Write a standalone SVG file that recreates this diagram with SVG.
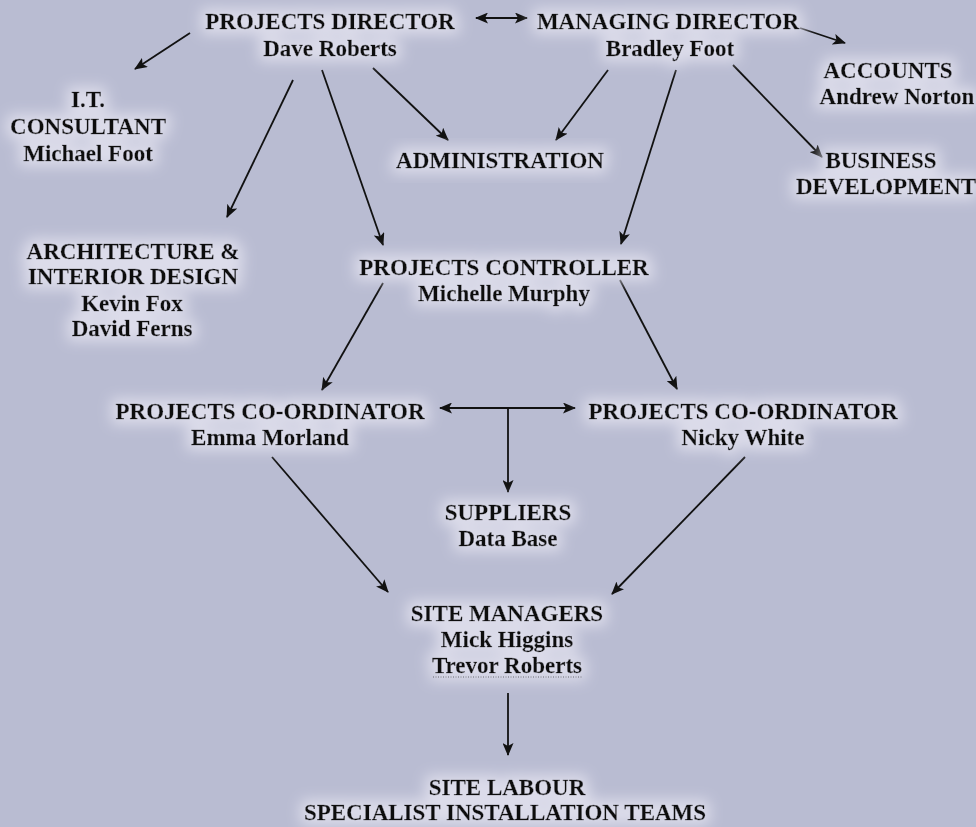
<svg xmlns="http://www.w3.org/2000/svg" width="976" height="827" viewBox="0 0 976 827">
<defs>
<style>
text{font-family:"Liberation Serif","Times New Roman",serif;font-weight:bold;font-size:23px;fill:#0c0c0c;stroke:#0c0c0c;stroke-width:0.3;text-anchor:middle}
.c line{stroke:#111;stroke-width:1.8;fill:none}
</style>
<marker id="ah" viewBox="0 0 13 11" refX="12" refY="5.5" markerWidth="13" markerHeight="11" markerUnits="userSpaceOnUse" orient="auto-start-reverse">
<path d="M0,0 L13,5.5 L0,11 L3,5.5 Z" fill="#111"/>
</marker>
<filter id="glow" x="-20%" y="-40%" width="140%" height="180%">
<feMorphology in="SourceAlpha" operator="dilate" radius="5" result="d"/>
<feGaussianBlur in="d" stdDeviation="7" result="b"/>
<feFlood flood-color="#dcdcea" flood-opacity="1"/>
<feComposite in2="b" operator="in" result="g"/>
<feMerge><feMergeNode in="g"/><feMergeNode in="SourceGraphic"/></feMerge>
</filter>
</defs>
<rect width="976" height="827" fill="#b9bcd2"/>
<g class="c" id="connectors">
<line x1="190" y1="33" x2="135" y2="69" marker-end="url(#ah)"/>
<line x1="476" y1="18" x2="527" y2="18" marker-start="url(#ah)" marker-end="url(#ah)"/>
<line x1="800" y1="28" x2="845" y2="43" marker-end="url(#ah)"/>
<line x1="293" y1="80" x2="227" y2="217" marker-end="url(#ah)"/>
<line x1="322" y1="70" x2="383" y2="245" marker-end="url(#ah)"/>
<line x1="373" y1="68" x2="448" y2="140" marker-end="url(#ah)"/>
<line x1="608" y1="70" x2="556" y2="140" marker-end="url(#ah)"/>
<line x1="676" y1="70" x2="621" y2="244" marker-end="url(#ah)"/>
<line x1="733" y1="65" x2="822" y2="157" marker-end="url(#ah)"/>
<line x1="383" y1="283" x2="322" y2="390" marker-end="url(#ah)"/>
<line x1="620" y1="280" x2="677" y2="389" marker-end="url(#ah)"/>
<line x1="440" y1="408" x2="575" y2="408" marker-start="url(#ah)" marker-end="url(#ah)"/>
<line x1="508" y1="408" x2="508" y2="492" marker-end="url(#ah)"/>
<line x1="272" y1="457" x2="388" y2="592" marker-end="url(#ah)"/>
<line x1="745" y1="457" x2="612" y2="594" marker-end="url(#ah)"/>
<line x1="508" y1="693" x2="508" y2="755" marker-end="url(#ah)"/>
</g>
<g id="projects-director" filter="url(#glow)"><text x="330" y="29">PROJECTS DIRECTOR</text><text x="330" y="56">Dave Roberts</text></g>
<g id="managing-director" filter="url(#glow)"><text x="668" y="29">MANAGING DIRECTOR</text><text x="670" y="56">Bradley Foot</text></g>
<g id="accounts" filter="url(#glow)"><text x="888" y="78">ACCOUNTS</text><text x="897" y="104">Andrew Norton</text></g>
<g id="it-consultant" filter="url(#glow)"><text x="88" y="107">I.T.</text><text x="88" y="134">CONSULTANT</text><text x="88" y="161">Michael Foot</text></g>
<g id="administration" filter="url(#glow)"><text x="500" y="168">ADMINISTRATION</text></g>
<g id="business-development" filter="url(#glow)"><text x="881" y="168">BUSINESS</text><text x="886" y="194">DEVELOPMENT</text></g>
<g id="architecture" filter="url(#glow)"><text x="133" y="259">ARCHITECTURE &amp;</text><text x="133" y="284">INTERIOR DESIGN</text><text x="132" y="311">Kevin Fox</text><text x="132" y="336">David Ferns</text></g>
<g id="projects-controller" filter="url(#glow)"><text x="504" y="275">PROJECTS CONTROLLER</text><text x="504" y="301">Michelle Murphy</text></g>
<g id="coordinator-left" filter="url(#glow)"><text x="270" y="419">PROJECTS CO-ORDINATOR</text><text x="270" y="445">Emma Morland</text></g>
<g id="coordinator-right" filter="url(#glow)"><text x="743" y="419">PROJECTS CO-ORDINATOR</text><text x="743" y="445">Nicky White</text></g>
<g id="suppliers" filter="url(#glow)"><text x="508" y="520">SUPPLIERS</text><text x="508" y="546">Data Base</text></g>
<g id="site-managers" filter="url(#glow)"><text x="507" y="621">SITE MANAGERS</text><text x="507" y="647">Mick Higgins</text><text x="507" y="673">Trevor Roberts</text><line x1="433" y1="677" x2="583" y2="677" stroke="#333" stroke-width="1" stroke-dasharray="1,1.5"/></g>
<g id="site-labour" filter="url(#glow)"><text x="507" y="795">SITE LABOUR</text><text x="505" y="820">SPECIALIST INSTALLATION TEAMS</text></g>
</svg>
